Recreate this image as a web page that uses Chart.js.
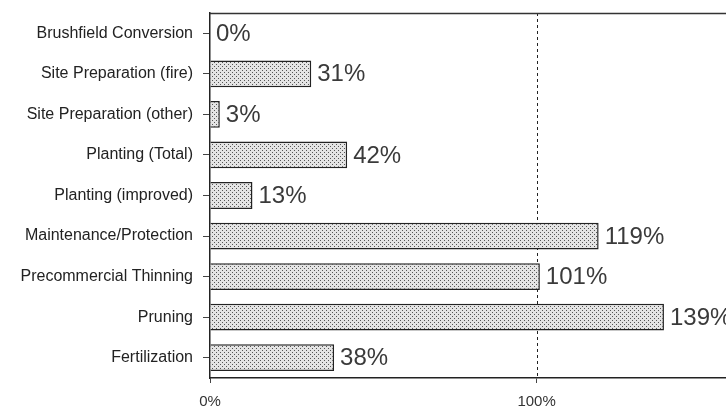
<!DOCTYPE html>
<html>
<head>
<meta charset="utf-8">
<script src="https://cdn.jsdelivr.net/npm/chart.js@4"></script>
<style>
  html, body { margin: 0; padding: 0; background: #fff; }
  #wrap { width: 726px; height: 410px; }
</style>
</head>
<body>
<div id="wrap"><canvas id="myChart" width="726" height="410"></canvas></div>
<script>
// data block
const categories = [
  "Brushfield Conversion",
  "Site Preparation (fire)",
  "Site Preparation (other)",
  "Planting (Total)",
  "Planting (improved)",
  "Maintenance/Protection",
  "Precommercial Thinning",
  "Pruning",
  "Fertilization",
];
const percentValues = [0, 31, 3, 42, 13, 119, 101, 139, 38];
const xTickValues = [0, 100];
const xMax = 158;

// dotted fill like the old spreadsheet hatch
function dotPattern() {
  const c = document.createElement("canvas");
  c.width = 4;
  c.height = 4;
  const g = c.getContext("2d");
  g.fillStyle = "#e4e4e4";
  g.fillRect(0, 0, 4, 4);
  g.fillStyle = "#555";
  g.fillRect(0, 0, 1, 1);
  g.fillRect(2, 2, 1, 1);
  return g.createPattern(c, "repeat");
}

// plugin - top frame line + dashed 100% line + value labels
const extras = {
  id: "extras",
  beforeDatasetsDraw: (chart) => {
    const { ctx, chartArea: { left, right, top, bottom }, scales: { x } } = chart;
    ctx.save();
    ctx.strokeStyle = "#222";
    ctx.lineWidth = 1;
    ctx.setLineDash([3, 3]);
    const px = Math.round(x.getPixelForValue(100)) + 0.5;
    ctx.beginPath();
    ctx.moveTo(px, top);
    ctx.lineTo(px, bottom);
    ctx.stroke();
    ctx.setLineDash([]);
    ctx.lineWidth = 1.5;
    ctx.strokeStyle = "#333";
    ctx.beginPath();
    ctx.moveTo(left, top + 0.5);
    ctx.lineTo(right, top + 0.5);
    ctx.stroke();
    ctx.restore();
  },
  afterDatasetsDraw: (chart) => {
    const { ctx } = chart;
    const meta = chart.getDatasetMeta(0);
    ctx.save();
    ctx.font = "24px 'Liberation Sans', Arial, sans-serif";
    ctx.fillStyle = "#3a3a3a";
    ctx.textAlign = "left";
    ctx.textBaseline = "middle";
    meta.data.forEach((bar, i) => {
      ctx.fillText(percentValues[i] + "%", bar.x + 6, bar.y + 1);
    });
    ctx.restore();
  },
};

// config block
const config = {
  type: "bar",
  data: {
    labels: categories,
    datasets: [
      {
        data: percentValues,
        backgroundColor: dotPattern(),
        borderColor: "#222",
        borderWidth: 1.5,
        borderSkipped: "left",
        barPercentage: 0.66,
        categoryPercentage: 1,
      },
    ],
  },
  options: {
    indexAxis: "y",
    responsive: false,
    animation: false,
    layout: { padding: { top: 13, right: 0, left: 0, bottom: 0 } },
    plugins: { legend: { display: false }, tooltip: { enabled: false } },
    scales: {
      x: {
        min: 0,
        max: xMax,
        afterBuildTicks: (scale) => {
          scale.ticks = xTickValues.map((v) => ({ value: v }));
        },
        afterFit: (scale) => {
          scale.height = 32;
          scale.paddingLeft = 0;
          scale.paddingRight = 0;
        },
        grid: {
          drawOnChartArea: false,
          tickLength: 5,
          color: "#444",
        },
        border: { color: "#222", width: 1.5 },
        ticks: {
          color: "#333",
          padding: 10,
          font: { family: "'Liberation Sans', Arial, sans-serif", size: 15 },
          callback: (v) => v + "%",
        },
      },
      y: {
        afterFit: (scale) => {
          scale.width = 210;
          scale.paddingTop = 0;
          scale.paddingBottom = 0;
        },
        grid: {
          drawOnChartArea: false,
          offset: false,
          tickLength: 7,
          color: "#444",
        },
        border: { color: "#222", width: 1.5 },
        ticks: {
          color: "#222",
          padding: 10,
          font: { family: "'Liberation Sans', Arial, sans-serif", size: 16 },
        },
      },
    },
  },
  plugins: [extras],
};

// render init block
const myChart = new Chart(document.getElementById("myChart"), config);
</script>
</body>
</html>
